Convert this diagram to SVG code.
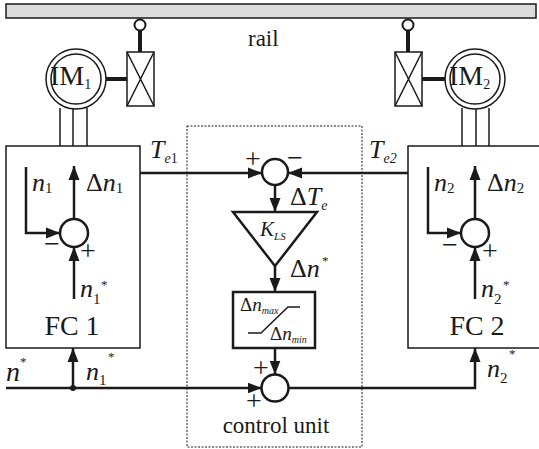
<svg xmlns="http://www.w3.org/2000/svg" width="539" height="449" viewBox="0 0 539 449">
<style>
.l{stroke:#1a1a1a;stroke-width:2.5;fill:none}
.t{stroke:#1a1a1a;stroke-width:1.5;fill:none}
.b{stroke:#1a1a1a;stroke-width:1.5;fill:#fff}
.c{stroke:#1a1a1a;stroke-width:2.5;fill:#fff}
.tx{font-family:"Liberation Serif","Times New Roman",serif;fill:#1a1a1a}
.i{font-style:italic}
.s{font-family:"Liberation Serif","Times New Roman",serif;fill:#1a1a1a;font-size:28px}
</style>
<defs>
<marker id="ah" markerUnits="userSpaceOnUse" markerWidth="16" markerHeight="12" refX="14" refY="6" orient="auto">
<path d="M0,0.5 L14,6 L0,11.5 Z" fill="#1a1a1a"/>
</marker>
</defs>
<g id="rail">
<rect x="6" y="4" width="530" height="14" fill="#dcdcdc" stroke="#1a1a1a" stroke-width="1.5"/>
<text class="tx" x="248" y="46" font-size="23">rail</text>
</g>
<g id="pendulum1">
<line x1="140" y1="31" x2="140" y2="52" stroke="#1a1a1a" stroke-width="4"/>
<circle cx="140" cy="25" r="5.5" fill="#fff" stroke="#1a1a1a" stroke-width="2"/>
<rect x="127" y="52" width="27" height="54" class="b"/>
<path d="M127,52 L154,106 M154,52 L127,106" class="t" stroke-width="1"/>
</g>
<g id="pendulum2">
<line x1="408" y1="31" x2="408" y2="52" stroke="#1a1a1a" stroke-width="4"/>
<circle cx="408" cy="25" r="5.5" fill="#fff" stroke="#1a1a1a" stroke-width="2"/>
<rect x="395" y="52" width="27" height="54" class="b"/>
<path d="M395,52 L422,106 M422,52 L395,106" class="t" stroke-width="1"/>
</g>
<g id="IM1">
<line x1="100" y1="79" x2="127" y2="79" stroke="#1a1a1a" stroke-width="4"/>
<path d="M60,108 V146 M73,108 V146 M87,108 V146" class="t" stroke-width="2"/>
<circle cx="76" cy="79" r="30" class="b"/>
<circle cx="76" cy="79" r="25" class="b"/>
<text class="tx" x="50" y="85" font-size="28">IM<tspan font-size="14" dy="4">1</tspan></text>
</g>
<g id="IM2">
<line x1="422" y1="79" x2="450" y2="79" stroke="#1a1a1a" stroke-width="4"/>
<path d="M462,108 V146 M476,108 V146 M489,108 V146" class="t" stroke-width="2"/>
<circle cx="475" cy="79" r="30" class="b"/>
<circle cx="475" cy="79" r="25" class="b"/>
<text class="tx" x="449" y="85" font-size="28">IM<tspan font-size="14" dy="4">2</tspan></text>
</g>
<g id="control_unit">
<rect x="187" y="126" width="175" height="321" fill="none" stroke="#1a1a1a" stroke-width="1" stroke-dasharray="2,1.5"/>
<text class="tx" x="276" y="433" font-size="23" text-anchor="middle">control unit</text>
</g>
<g id="FC1">
<rect x="6" y="146" width="134" height="202" class="b"/>
<text class="tx" x="72" y="335" font-size="28" text-anchor="middle">FC 1</text>
<circle cx="74" cy="233" r="14" class="c"/>
<text class="tx i" x="32" y="191" font-size="26">n<tspan font-style="normal" font-size="15" dy="2">1</tspan></text>
<text class="tx" x="86" y="191" font-size="26">Δ<tspan font-style="italic">n</tspan><tspan font-size="15" dy="2">1</tspan></text>
<text class="tx i" x="80" y="297" font-size="26">n</text>
<text class="tx" x="93" y="304" font-size="15">1</text>
<text class="tx" x="101" y="289" font-size="13">*</text>
<text class="s" x="44" y="253">−</text>
<text class="s" x="80" y="260">+</text>
</g>
<g id="FC2">
<rect x="408" y="146" width="140" height="202" class="b"/>
<text class="tx" x="477" y="335" font-size="28" text-anchor="middle">FC 2</text>
<circle cx="475" cy="233" r="14" class="c"/>
<text class="tx i" x="434" y="191" font-size="26">n<tspan font-style="normal" font-size="15" dy="2">2</tspan></text>
<text class="tx" x="487" y="191" font-size="26">Δ<tspan font-style="italic">n</tspan><tspan font-size="15" dy="2">2</tspan></text>
<text class="tx i" x="481" y="297" font-size="26">n</text>
<text class="tx" x="494" y="304" font-size="15">2</text>
<text class="tx" x="503" y="289" font-size="13">*</text>
<text class="s" x="442" y="254">−</text>
<text class="s" x="482" y="260">+</text>
</g>
<g id="sum_top">
<circle cx="275" cy="172" r="13" class="c"/>
<text class="s" x="245" y="168">+</text>
<text class="s" x="287" y="167">−</text>
</g>
<g id="gain">
<path d="M233,212 L317,212 L275,266 Z" class="c"/>
<text class="tx i" x="260" y="236" font-size="21">K<tspan font-size="11" dy="4">LS</tspan></text>
</g>
<g id="saturation">
<rect x="233" y="292" width="82" height="56" fill="#fff" stroke="#1a1a1a" stroke-width="2.5"/>
<path d="M248,333 H261 L288,307 H300" class="t" stroke-width="1.2"/>
<text class="tx" x="240" y="311" font-size="19">Δ<tspan font-style="italic">n</tspan><tspan font-style="italic" font-size="10" dy="3">max</tspan></text>
<text class="tx" x="270" y="340" font-size="19">Δ<tspan font-style="italic">n</tspan><tspan font-style="italic" font-size="10" dy="3">min</tspan></text>
</g>
<g id="sum_bottom">
<circle cx="275" cy="388" r="13.5" class="c"/>
<text class="s" x="253" y="377">+</text>
<text class="s" x="246" y="410">+</text>
</g>
<g id="labels">
<text class="tx i" x="150" y="158" font-size="26">T<tspan font-size="14" dy="5">e</tspan><tspan font-style="normal" font-size="14">1</tspan></text>
<text class="tx i" x="369" y="158" font-size="26">T<tspan font-size="14" dy="5">e2</tspan></text>
<text class="tx" x="290" y="205" font-size="26">Δ<tspan font-style="italic">T</tspan><tspan font-style="italic" font-size="14" dy="5">e</tspan></text>
<text class="tx" x="290" y="277" font-size="26">Δ<tspan font-style="italic">n</tspan></text>
<text class="tx" x="322" y="265" font-size="13">*</text>
<text class="tx i" x="6" y="381" font-size="28">n</text>
<text class="tx" x="20" y="366" font-size="13">*</text>
<text class="tx i" x="86" y="380" font-size="26">n</text>
<text class="tx" x="99" y="385" font-size="15">1</text>
<text class="tx" x="108" y="361" font-size="13">*</text>
<text class="tx i" x="487" y="377" font-size="26">n</text>
<text class="tx" x="500" y="383" font-size="15">2</text>
<text class="tx" x="509" y="358" font-size="13">*</text>
</g>
<g id="connectors">
<line x1="140" y1="173" x2="262" y2="173" class="l" marker-end="url(#ah)"/>
<line x1="408" y1="173" x2="288" y2="173" class="l" marker-end="url(#ah)"/>
<line x1="275" y1="185" x2="275" y2="212" class="l" marker-end="url(#ah)"/>
<line x1="275" y1="266" x2="275" y2="292" class="l" marker-end="url(#ah)"/>
<line x1="275" y1="348" x2="275" y2="374.5" class="l" marker-end="url(#ah)"/>
<line x1="6" y1="388" x2="261.5" y2="388" class="l" marker-end="url(#ah)"/>
<line x1="73" y1="388" x2="73" y2="348" class="l" marker-end="url(#ah)"/>
<circle cx="73" cy="388" r="3" fill="#1a1a1a"/>
<polyline points="288.5,388 475,388 475,348" class="l" marker-end="url(#ah)"/>
<polyline points="26,167 26,233 60,233" class="l" marker-end="url(#ah)"/>
<line x1="74" y1="219" x2="74" y2="166" class="l" marker-end="url(#ah)"/>
<line x1="74" y1="299" x2="74" y2="247" class="l" marker-end="url(#ah)"/>
<polyline points="428,167 428,233 461,233" class="l" marker-end="url(#ah)"/>
<line x1="475" y1="219" x2="475" y2="166" class="l" marker-end="url(#ah)"/>
<line x1="475" y1="299" x2="475" y2="247" class="l" marker-end="url(#ah)"/>
</g>
</svg>
